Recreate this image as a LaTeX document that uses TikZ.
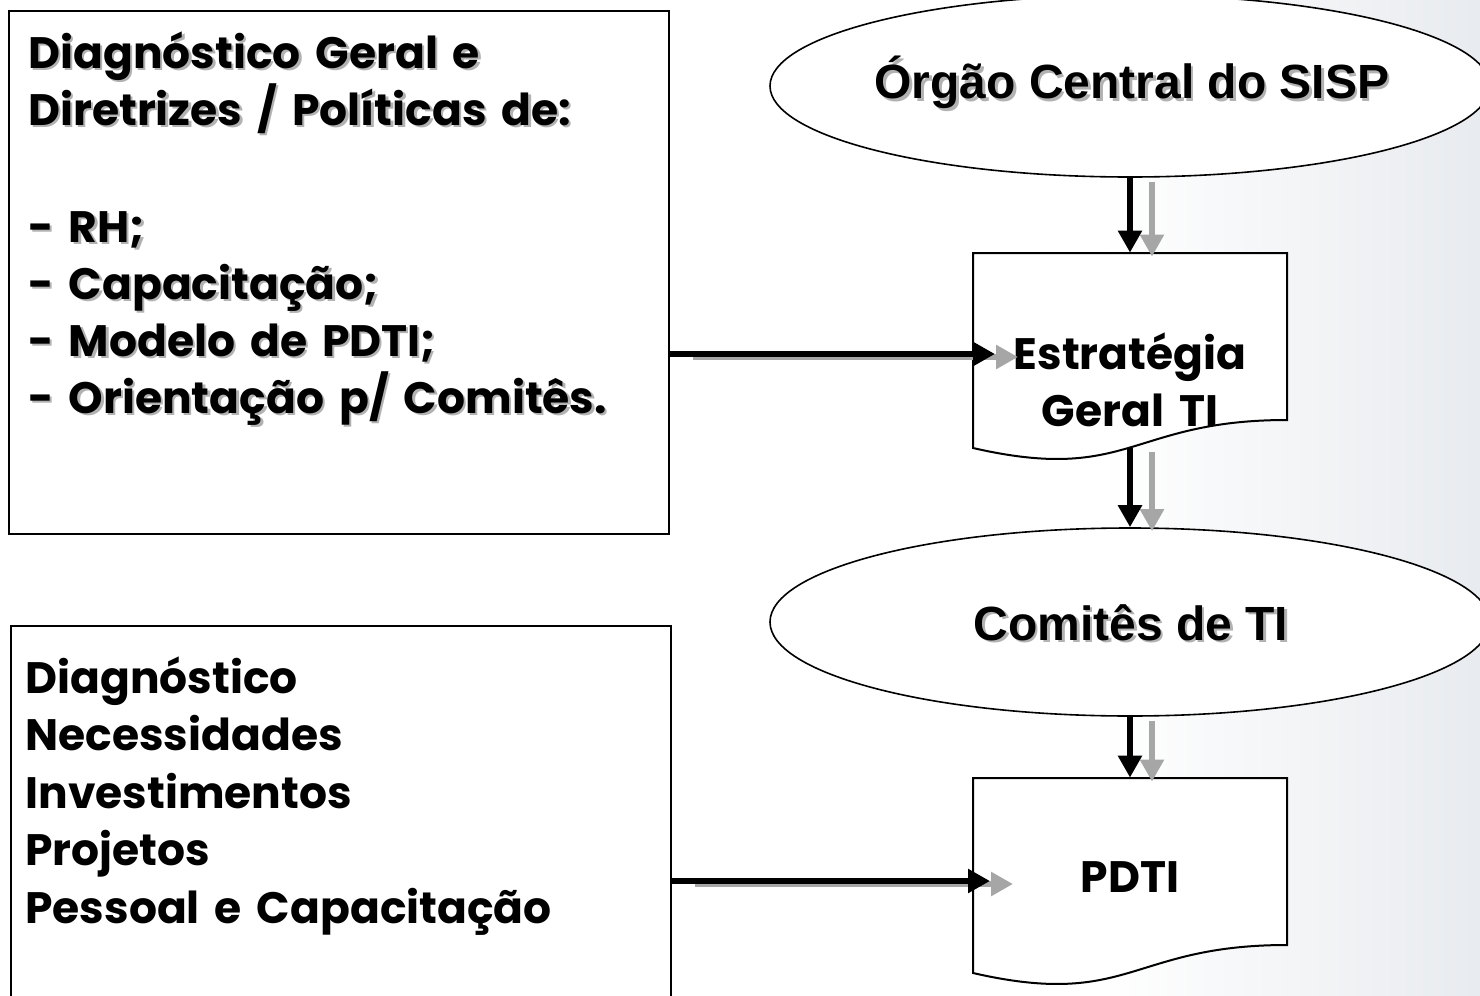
\documentclass[tikz,border=0pt]{standalone}
\usepackage{fontspec}
\usetikzlibrary{arrows.meta,shapes.geometric,calc}
\newfontfamily\gothic{Poppins}[WordSpace=1.6]
\newfontfamily\arialf{Liberation Sans}
\newcommand\shtext[1]{\makebox[0pt][l]{\kern1.2pt\raisebox{-1.2pt}{\color{black!30}#1}}#1}
\definecolor{bgtint}{RGB}{232,235,239}
\begin{document}
\begin{tikzpicture}[x=0.5pt,y=-0.5pt,
  box/.style={draw, line width=0.8pt, anchor=north west, inner sep=0pt, fill=white},
  oval/.style={draw, ellipse, line width=0.8pt, fill=white, inner sep=0pt, minimum width=360pt},
  gline/.style={anchor=base west, inner sep=0pt, font=\gothic\bfseries\fontsize{22}{28}\selectfont},
  otext/.style={inner sep=0pt, font=\arialf\bfseries\fontsize{24}{28}\selectfont},
  docline/.style={draw, line width=1pt, fill=white},
  anch/.style={inner sep=0pt, minimum width=157pt, minimum height=97.5pt},
  blk/.style={line width=3pt, draw=black, -{Triangle[width=11.5pt,length=11pt]}},
  gry/.style={line width=3pt, draw=black!35, -{Triangle[width=11.5pt,length=11pt]}}
]
\useasboundingbox (0,0) rectangle (1480,996);
\clip (0,0) rectangle (1480,996);
\fill[white] (0,0) rectangle (1480,996);
\shade[left color=white, right color=bgtint] (1100,0) rectangle (1480,996);

% left boxes
\node[box, minimum width=330pt, minimum height=261.5pt] (b1) at (8,10) {};
\node[box, minimum width=330pt, minimum height=190pt] (b2) at (10,625) {};

\node[gline] (l1) at (28,68) {\shtext{Diagnóstico Geral e}};
\node[gline] (l2) at (28,125) {\shtext{Diretrizes / Políticas de:}};
\node[gline] (l3) at (28,242) {\shtext{- RH;}};
\node[gline] (l4) at (28,299) {\shtext{- Capacitação;}};
\node[gline] (l5) at (28,356) {\shtext{- Modelo de PDTI;}};
\node[gline] (l6) at (28,413) {\shtext{- Orientação p/ Comitês.}};

\node[gline] (m1) at (25,693) {Diagnóstico};
\node[gline] (m2) at (25,750) {Necessidades};
\node[gline] (m3) at (25,808) {Investimentos};
\node[gline] (m4) at (25,865) {Projetos};
\node[gline] (m5) at (25,923) {Pessoal e Capacitação};

% ellipses
\node[oval, minimum height=91pt] (e1) at (1130,86) {};
\node[otext] (e1t) at (1132,84) {\shtext{Órgão Central do SISP}};
\node[oval, minimum height=94pt] (e2) at (1130,622) {};
\node[otext] (e2t) at (1131,624) {\shtext{Comitês de TI}};

% documents
\draw[docline] (973,253) -- (1287,253) -- (1287,420) .. controls (1130,420) and (1130,484) .. (973,448) -- cycle;
\node[anch] (d1) at (1130,350.5) {};
\node[inner sep=0pt, align=center, font=\gothic\bfseries\fontsize{22}{28.5}\selectfont] (d1t) at (1130,380) {Estratégia\\Geral TI};

\draw[docline] (973,778) -- (1287,778) -- (1287,945) .. controls (1130,945) and (1130,1009) .. (973,973) -- cycle;
\node[anch] (d2) at (1130,875.5) {};
\node[inner sep=0pt, font=\gothic\bfseries\fontsize{22}{28}\selectfont] (d2t) at (1130,877) {PDTI};

% connector end points
\coordinate (h1) at (995,354);
\coordinate (h2) at (990,881);

% shadows
\begin{scope}[transform canvas={xshift=11pt,yshift=-2pt}]
\draw[gry] (e1.south) -- (d1.north);
\draw[gry] (d1.south) -- (e2.north);
\draw[gry] (e2.south) -- (d2.north);
\end{scope}
\begin{scope}[transform canvas={xshift=11.5pt,yshift=-1.5pt}]
\draw[gry] (b1.east |- h1) -- (h1);
\draw[gry] (b2.east |- h2) -- (h2);
\end{scope}

% arrows
\draw[blk] (e1.south) -- (d1.north);
\draw[blk] (d1.south) -- (e2.north);
\draw[blk] (e2.south) -- (d2.north);
\draw[blk] (b1.east |- h1) -- (h1);
\draw[blk] (b2.east |- h2) -- (h2);
\end{tikzpicture}
\end{document}
